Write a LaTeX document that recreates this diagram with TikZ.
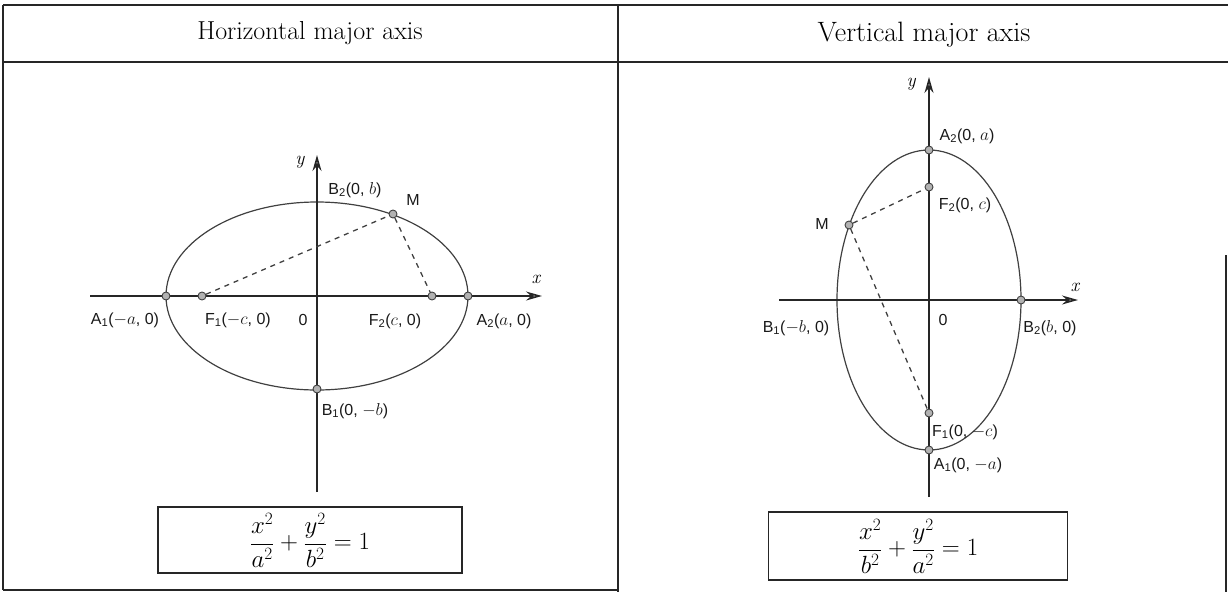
\documentclass[tikz,border=0pt]{standalone}
\usepackage{fontspec}
\setsansfont{Liberation Sans}
\usetikzlibrary{arrows.meta}
\tikzset{
  frame/.style={draw=black!85, line width=1.2pt},
  axisline/.style={draw=black!85, line width=1.6pt, -{Stealth[length=16pt,width=9pt,fill=gray!60]}},
  ell/.style={draw=black!75, line width=1.2pt},
  dashln/.style={draw=black!75, line width=1.3pt, dash pattern=on 5pt off 5pt},
  dot/.style={circle, fill=gray!60, draw=black!75, line width=0.9pt, inner sep=0pt, minimum size=8pt},
  lbl/.style={font=\sffamily\fontsize{16}{18}\selectfont, inner sep=1pt, text=black!90},
  var/.style={font=\fontsize{19}{20}\selectfont\itshape, inner sep=1pt},
  eqbox/.style={draw=black!85, line width=1.2pt, inner sep=0pt},
}
\begin{document}
\begin{tikzpicture}[x=1pt,y=-1pt]
\useasboundingbox (0,0) rectangle (1228,592);
% table frame
\draw[frame] (3,5) -- (1228,5);
\draw[frame] (3,62) -- (1228,62);
\draw[frame] (3,5) -- (3,590);
\draw[frame] (618,5) -- (618,592);
\draw[frame] (3,590) -- (618,590);
\draw[frame] (1226,255) -- (1226,592);
\node[font=\fontsize{26}{30}\selectfont, inner sep=0pt] (h1) at (310,33) {Horizontal major axis};
\node[font=\fontsize{28}{32}\selectfont, inner sep=0pt] (h2) at (924,35) {Vertical major axis};

% ---------- left: horizontal major axis ----------
\coordinate (Oa) at (317,296);
\coordinate (xl) at (90,296);
\coordinate (xr) at (542,296);
\coordinate (yb) at (317,492);
\coordinate (yt) at (317,155);
\draw[ell] (Oa) ellipse [x radius=151pt, y radius=94pt];
\draw[axisline] (xl) -- (xr);
\draw[axisline] (yb) -- (yt);
\coordinate (B2) at (317,202);
\node[dot] (A1) at (166,296) {};
\node[dot] (A2) at (468,296) {};
\node[dot] (F1) at (202,296) {};
\node[dot] (F2) at (432,296) {};
\node[dot] (B1) at (317,389) {};
\node[dot] (M) at (393,214) {};
\draw[dashln] (F1) -- (M);
\draw[dashln] (M) -- (F2);
\node[var] (ly) at (300,162) {y};
\node[var] (lx) at (536,279) {x};
\node[lbl] (tB2) at (355,190) {B\textsubscript{2}(0, $b$)};
\node[lbl] (tM) at (413,200) {M};
\node[lbl] (tA1) at (125,320) {A\textsubscript{1}($-a$, 0)};
\node[lbl] (tF1) at (238,320) {F\textsubscript{1}($-c$, 0)};
\node[lbl] (t0) at (303,320) {0};
\node[lbl] (tF2) at (395,321) {F\textsubscript{2}($c$, 0)};
\node[lbl] (tA2) at (504,321) {A\textsubscript{2}($a$, 0)};
\node[lbl] (tB1) at (355,411) {B\textsubscript{1}(0, $-b$)};
\node[eqbox, minimum width=304pt, minimum height=66pt] (eq1) at (310,540)
  {\fontsize{25}{30}\selectfont$\displaystyle \frac{x^2}{a^2}+\frac{y^2}{b^2}=1$};

% ---------- right: vertical major axis ----------
\coordinate (Ob) at (929,300);
\coordinate (xl2) at (779,300);
\coordinate (xr2) at (1078,300);
\coordinate (yb2) at (929,497);
\coordinate (yt2) at (929,77);
\draw[ell] (Ob) ellipse [x radius=92pt, y radius=150pt];
\draw[axisline] (xl2) -- (xr2);
\draw[axisline] (yb2) -- (yt2);
\coordinate (RB1) at (837,300);
\node[dot] (RA2) at (929,150) {};
\node[dot] (RA1) at (929,450) {};
\node[dot] (RF2) at (929,187) {};
\node[dot] (RF1) at (929,413) {};
\node[dot] (RB2) at (1021,300) {};
\node[dot] (RM) at (849,225) {};
\draw[dashln] (RM) -- (RF2);
\draw[dashln] (RM) -- (RF1);
\node[var] (ly2) at (911,84) {y};
\node[var] (lx2) at (1075,287) {x};
\node[lbl] (tRA2) at (967,136) {A\textsubscript{2}(0, $a$)};
\node[lbl] (tRF2) at (965,205) {F\textsubscript{2}(0, $c$)};
\node[lbl] (tRM) at (822,224) {M};
\node[lbl] (tRB1) at (796,328) {B\textsubscript{1}($-b$, 0)};
\node[lbl] (tR0) at (943,320) {0};
\node[lbl] (tRB2) at (1050,328) {B\textsubscript{2}($b$, 0)};
\node[lbl] (tRF1) at (965,432) {F\textsubscript{1}(0, $-c$)};
\node[lbl] (tRA1) at (968,465) {A\textsubscript{1}(0, $-a$)};
\node[eqbox, minimum width=299pt, minimum height=68pt] (eq2) at (918,546)
  {\fontsize{25}{30}\selectfont$\displaystyle \frac{x^2}{b^2}+\frac{y^2}{a^2}=1$};
\end{tikzpicture}
\end{document}
